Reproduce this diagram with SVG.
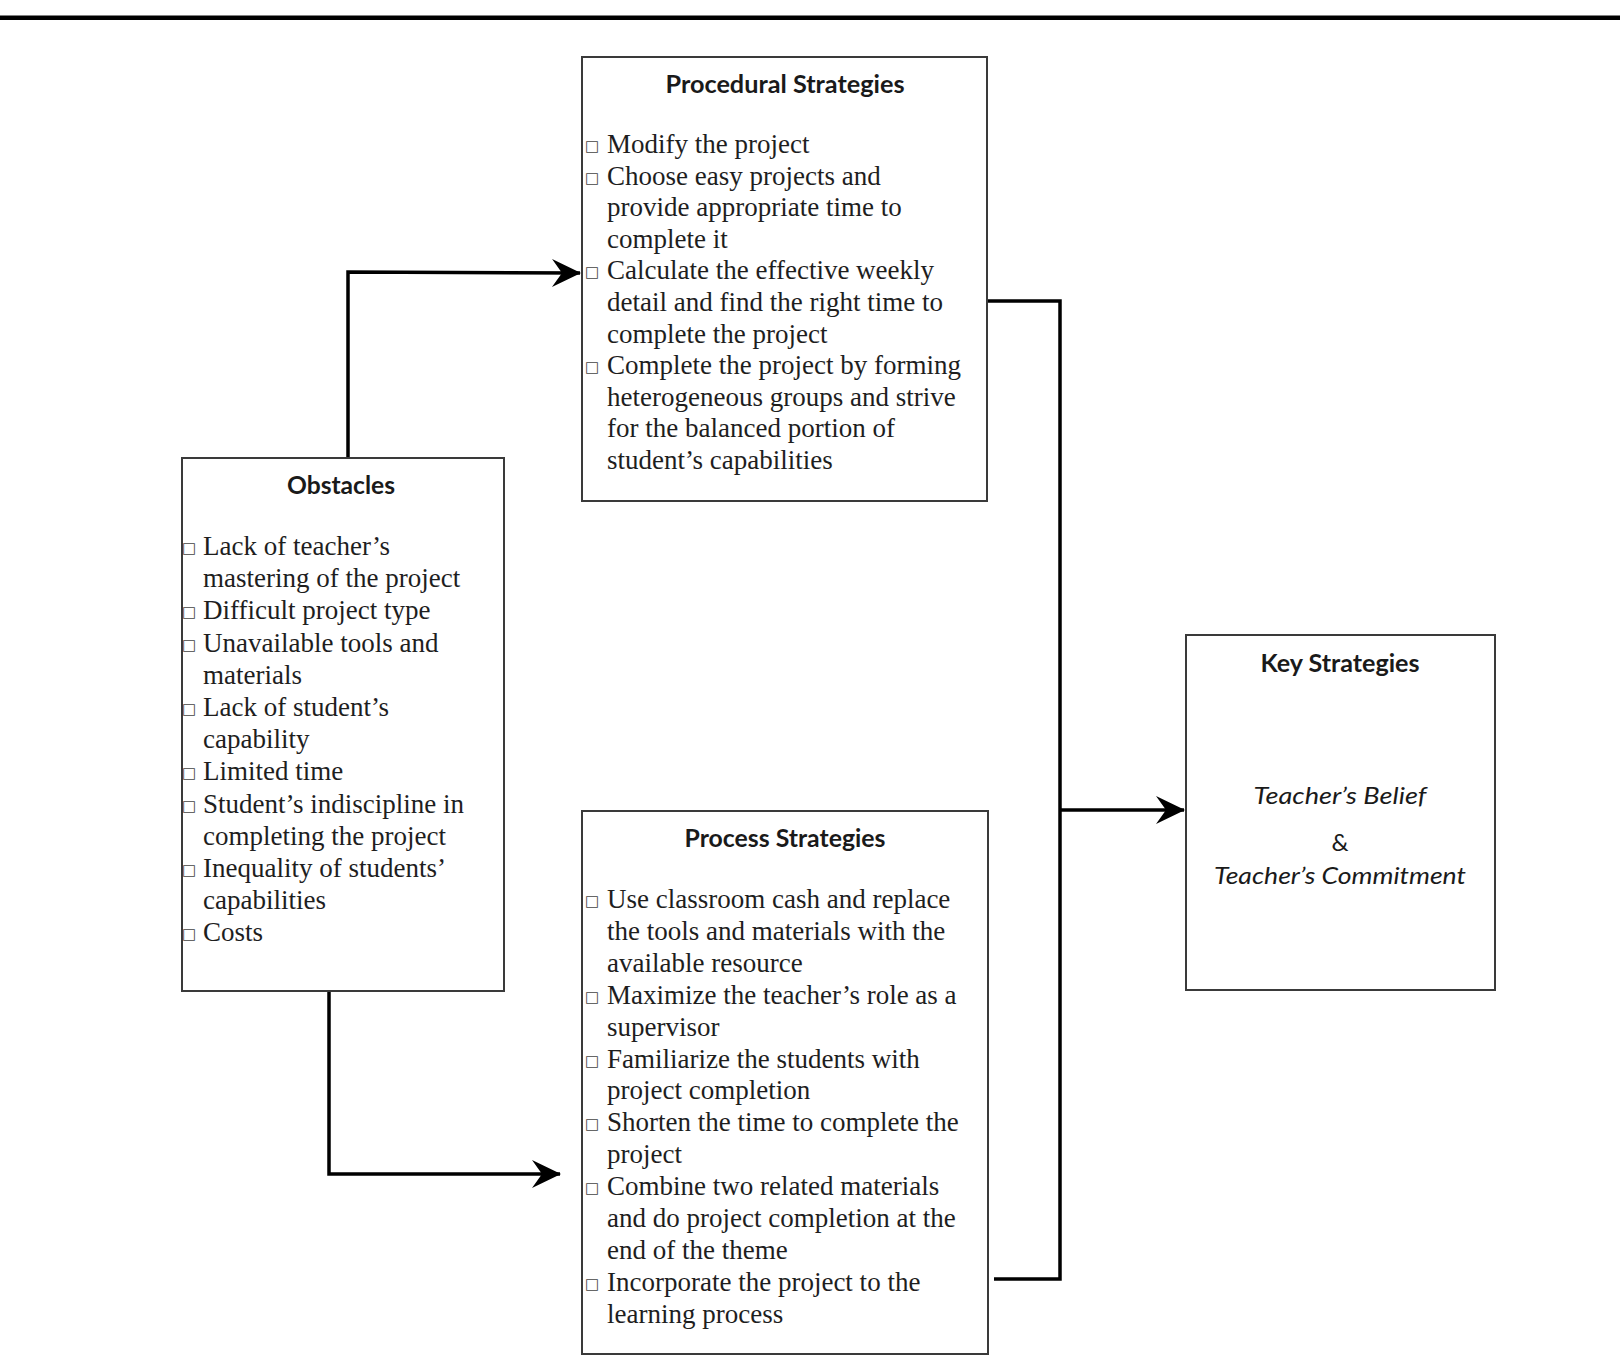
<svg xmlns="http://www.w3.org/2000/svg" width="1620" height="1356" viewBox="0 0 1620 1356">
<style>
.box{fill:#fff;stroke:#3a3a3a;stroke-width:2}
.t{font-family:"Liberation Serif","Times New Roman",serif;font-size:27px;fill:#1e1e1e}
.b{font-family:"DejaVu Sans",sans-serif;font-size:15px;fill:#444}
.h{font-family:Lato,"Liberation Sans",sans-serif;font-weight:bold;font-size:24px;fill:#1a1a1a;text-anchor:middle}
.k{font-family:Lato,"Liberation Sans",sans-serif;font-style:italic;font-size:24px;fill:#1a1a1a;text-anchor:middle}
.c{fill:none;stroke:#000;stroke-width:3.5;stroke-linejoin:miter}
</style>
<defs>
<marker id="arr" viewBox="0 0 32 30" refX="30" refY="15" markerWidth="32" markerHeight="30" markerUnits="userSpaceOnUse" orient="auto">
<path d="M31 15 L2 1 L12 15 L2 29 Z" fill="#000"/>
</marker>
</defs>
<rect x="0" y="15.5" width="1620" height="4.5" fill="#000"/>

<g id="connectors">
<polyline class="c" points="348,458 348,272 580,273" marker-end="url(#arr)"/>
<polyline class="c" points="329,991 329,1174 560,1174" marker-end="url(#arr)"/>
<polyline class="c" points="988,301 1060,301 1060,1279 994,1279"/>
<line class="c" x1="1060" y1="810" x2="1184" y2="810" marker-end="url(#arr)"/>
</g>

<g id="procedural">
<rect class="box" x="582" y="57" width="405" height="444"/>
<text class="h" x="785" y="93" textLength="239" lengthAdjust="spacingAndGlyphs">Procedural Strategies</text>
<text class="t" y="153"><tspan class="b" x="585" dy="-2">□</tspan><tspan x="607" dy="2">Modify the project</tspan></text>
<text class="t" y="184.6"><tspan class="b" x="585" dy="-2">□</tspan><tspan x="607" dy="2">Choose easy projects and</tspan></text>
<text class="t" x="607" y="216.2">provide appropriate time to</text>
<text class="t" x="607" y="247.8">complete it</text>
<text class="t" y="279.4"><tspan class="b" x="585" dy="-2">□</tspan><tspan x="607" dy="2">Calculate the effective weekly</tspan></text>
<text class="t" x="607" y="311">detail and find the right time to</text>
<text class="t" x="607" y="342.6">complete the project</text>
<text class="t" y="374.2"><tspan class="b" x="585" dy="-2">□</tspan><tspan x="607" dy="2">Complete the project by forming</tspan></text>
<text class="t" x="607" y="405.8">heterogeneous groups and strive</text>
<text class="t" x="607" y="437.4">for the balanced portion of</text>
<text class="t" x="607" y="469">student’s capabilities</text>
</g>

<g id="obstacles">
<rect class="box" x="182" y="458" width="322" height="533"/>
<text class="h" x="341" y="494" textLength="108" lengthAdjust="spacingAndGlyphs">Obstacles</text>
<text class="t" y="555"><tspan class="b" x="182" dy="-2">□</tspan><tspan x="203" dy="2">Lack of teacher’s</tspan></text>
<text class="t" x="203" y="587.2">mastering of the project</text>
<text class="t" y="619.4"><tspan class="b" x="182" dy="-2">□</tspan><tspan x="203" dy="2">Difficult project type</tspan></text>
<text class="t" y="651.6"><tspan class="b" x="182" dy="-2">□</tspan><tspan x="203" dy="2">Unavailable tools and</tspan></text>
<text class="t" x="203" y="683.8">materials</text>
<text class="t" y="716"><tspan class="b" x="182" dy="-2">□</tspan><tspan x="203" dy="2">Lack of student’s</tspan></text>
<text class="t" x="203" y="748.2">capability</text>
<text class="t" y="780.4"><tspan class="b" x="182" dy="-2">□</tspan><tspan x="203" dy="2">Limited time</tspan></text>
<text class="t" y="812.6"><tspan class="b" x="182" dy="-2">□</tspan><tspan x="203" dy="2">Student’s indiscipline in</tspan></text>
<text class="t" x="203" y="844.8">completing the project</text>
<text class="t" y="877"><tspan class="b" x="182" dy="-2">□</tspan><tspan x="203" dy="2">Inequality of students’</tspan></text>
<text class="t" x="203" y="909.2">capabilities</text>
<text class="t" y="941.4"><tspan class="b" x="182" dy="-2">□</tspan><tspan x="203" dy="2">Costs</tspan></text>
</g>

<g id="process">
<rect class="box" x="582" y="811" width="406" height="543"/>
<text class="h" x="785" y="847" textLength="201" lengthAdjust="spacingAndGlyphs">Process Strategies</text>
<text class="t" y="908"><tspan class="b" x="585" dy="-2">□</tspan><tspan x="607" dy="2">Use classroom cash and replace</tspan></text>
<text class="t" x="607" y="939.9">the tools and materials with the</text>
<text class="t" x="607" y="971.8">available resource</text>
<text class="t" y="1003.7"><tspan class="b" x="585" dy="-2">□</tspan><tspan x="607" dy="2">Maximize the teacher’s role as a</tspan></text>
<text class="t" x="607" y="1035.6">supervisor</text>
<text class="t" y="1067.5"><tspan class="b" x="585" dy="-2">□</tspan><tspan x="607" dy="2">Familiarize the students with</tspan></text>
<text class="t" x="607" y="1099.4">project completion</text>
<text class="t" y="1131.3"><tspan class="b" x="585" dy="-2">□</tspan><tspan x="607" dy="2">Shorten the time to complete the</tspan></text>
<text class="t" x="607" y="1163.2">project</text>
<text class="t" y="1195.1"><tspan class="b" x="585" dy="-2">□</tspan><tspan x="607" dy="2">Combine two related materials</tspan></text>
<text class="t" x="607" y="1227">and do project completion at the</text>
<text class="t" x="607" y="1258.9">end of the theme</text>
<text class="t" y="1290.8"><tspan class="b" x="585" dy="-2">□</tspan><tspan x="607" dy="2">Incorporate the project to the</tspan></text>
<text class="t" x="607" y="1322.7">learning process</text>
</g>

<g id="key">
<rect class="box" x="1186" y="635" width="309" height="355"/>
<text class="h" x="1340" y="672" textLength="159" lengthAdjust="spacingAndGlyphs">Key Strategies</text>
<text class="k" x="1340" y="804" textLength="173" lengthAdjust="spacingAndGlyphs">Teacher’s Belief</text>
<text class="k" x="1340" y="851" style="font-style:normal">&amp;</text>
<text class="k" x="1340" y="884" textLength="252" lengthAdjust="spacingAndGlyphs">Teacher’s Commitment</text>
</g>
</svg>
